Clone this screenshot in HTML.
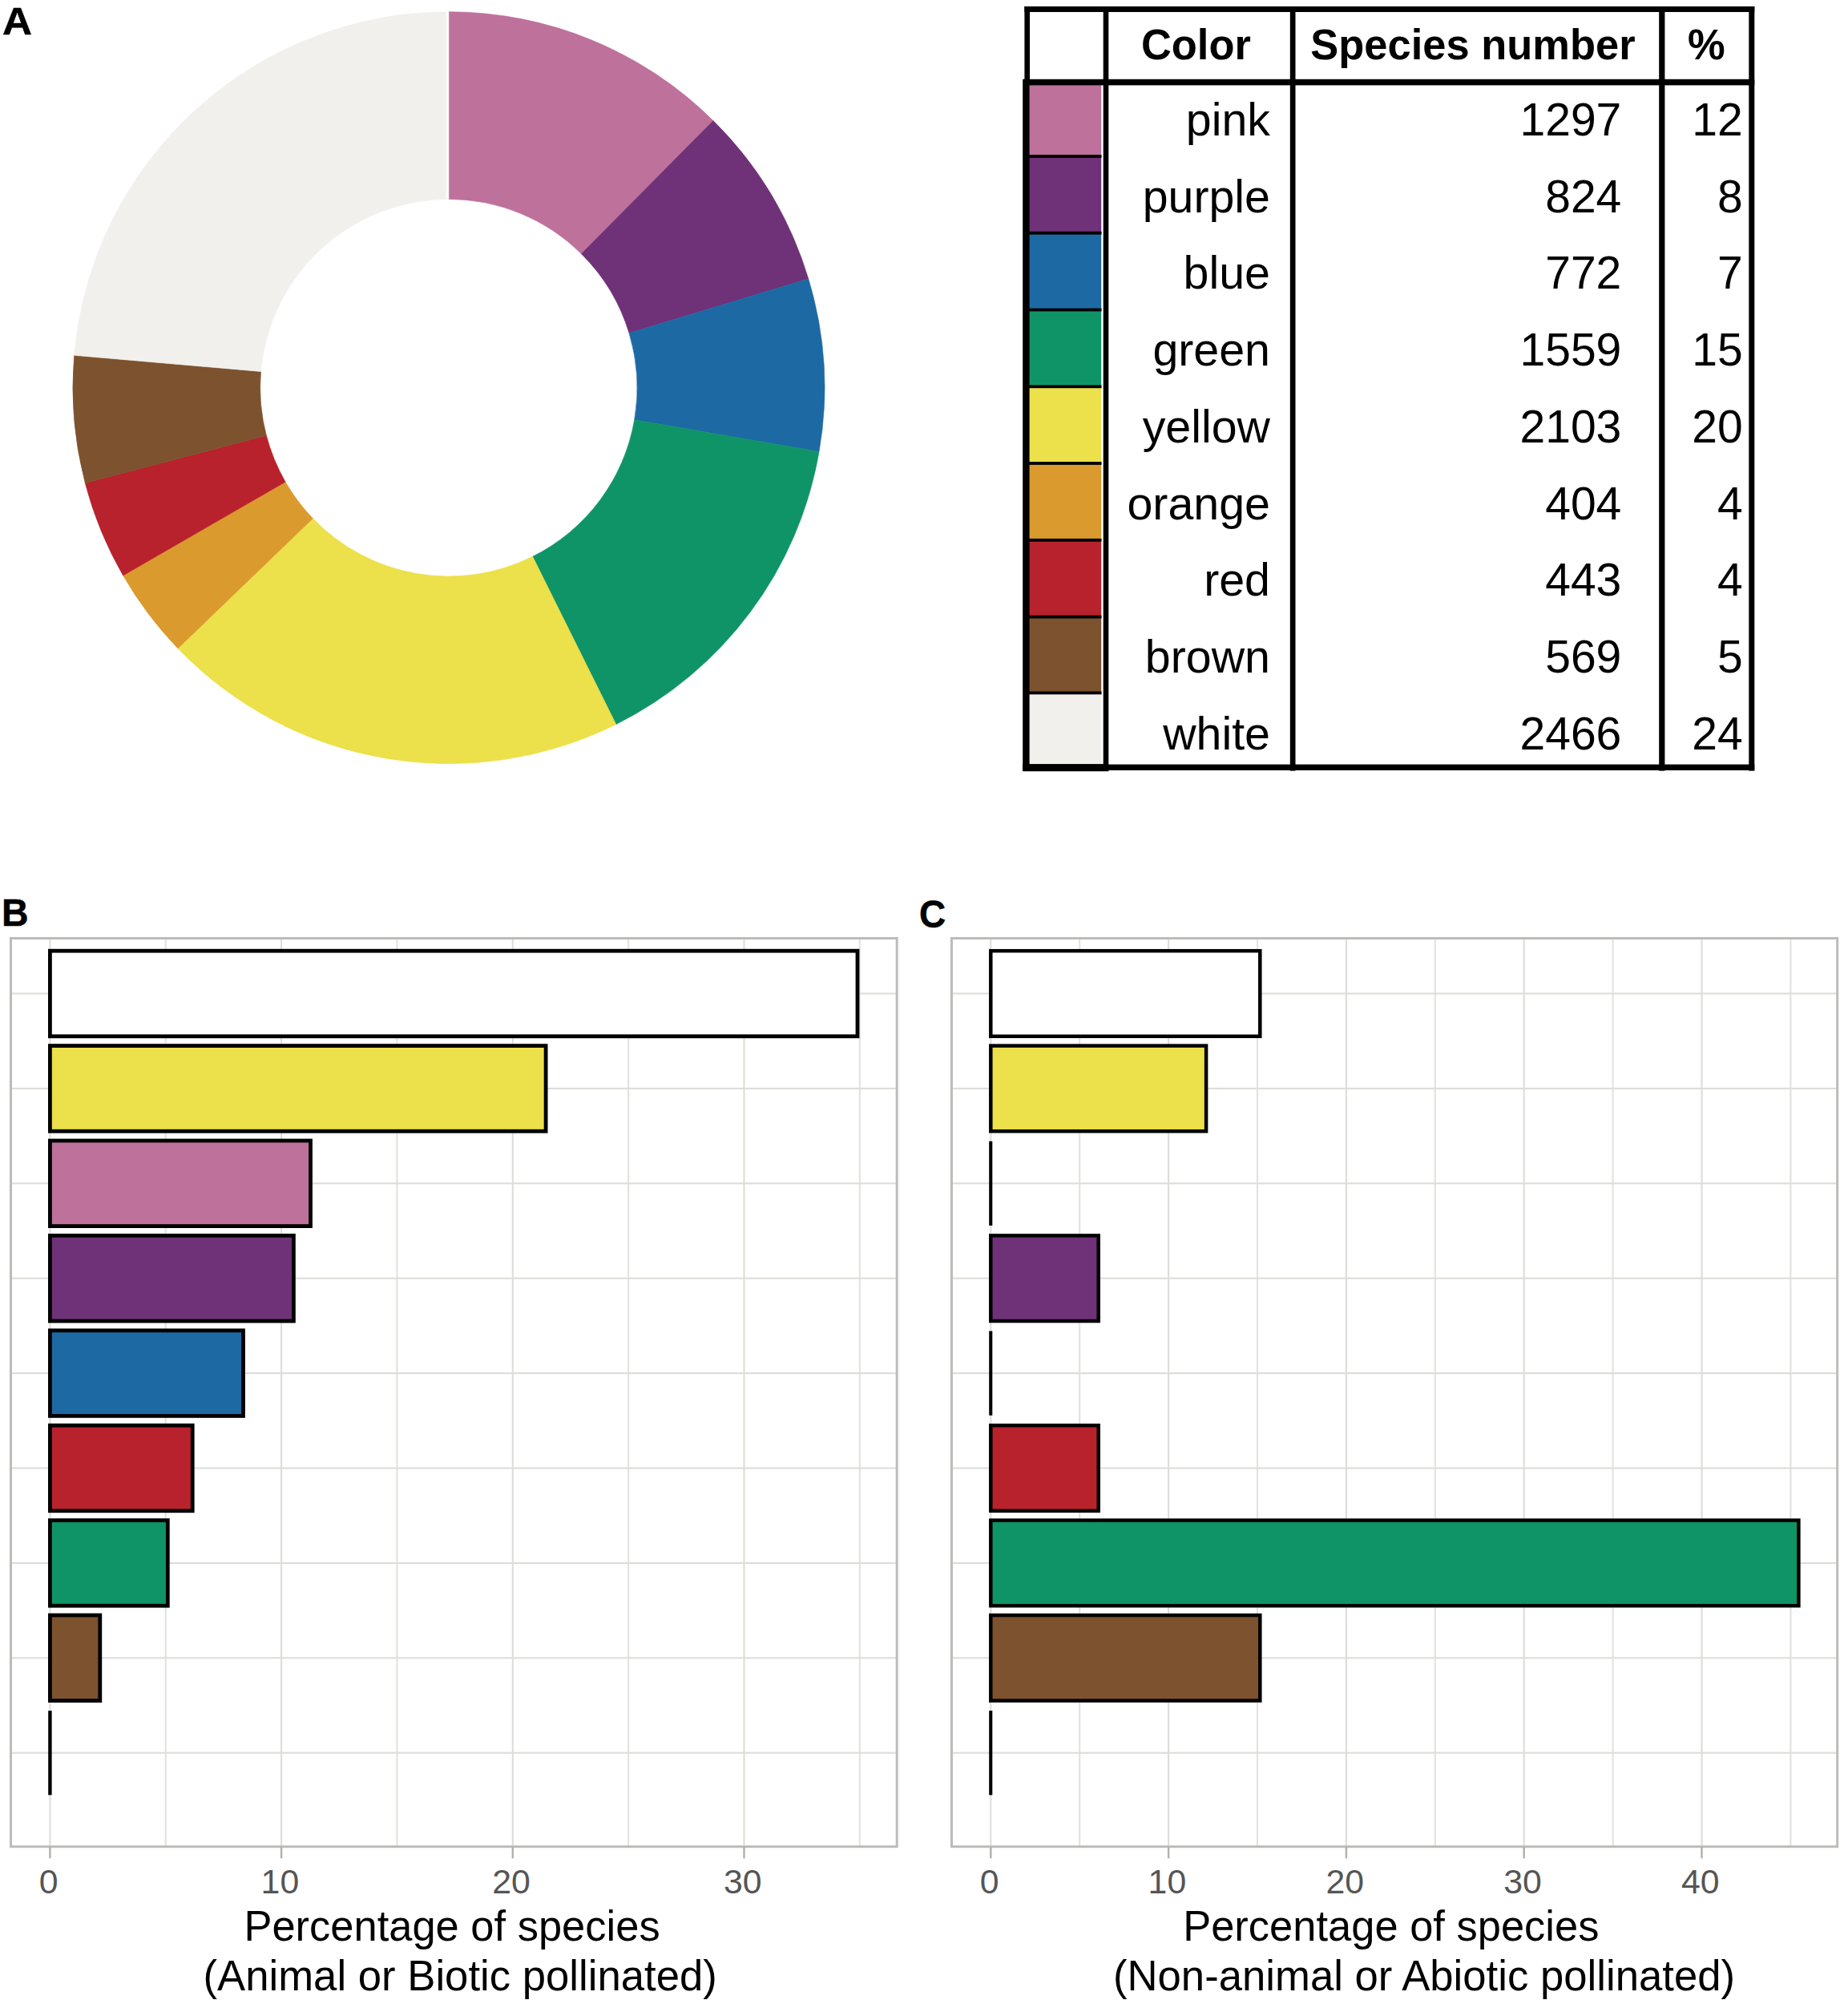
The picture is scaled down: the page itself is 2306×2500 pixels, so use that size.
<!DOCTYPE html>
<html lang="en"><head><meta charset="utf-8"><title>Flower colour figure</title>
<style>html,body{margin:0;padding:0;background:#fff}svg{display:block}text{font-family:"Liberation Sans",sans-serif}</style></head><body>
<svg width="2306" height="2500" viewBox="0 0 2306 2500">
<rect width="2306" height="2500" fill="#fff"/>
<g id="donut">
<path d="M559.90 14.70A469.0 469.0 0 0 1 890.01 150.55L725.45 316.63A235.2 235.2 0 0 0 559.90 248.50Z" fill="#BD719B" stroke="#BD719B" stroke-width="0.6"/>
<path d="M890.01 150.55A469.0 469.0 0 0 1 1008.79 347.82L785.01 415.56A235.2 235.2 0 0 0 725.45 316.63Z" fill="#6F3178" stroke="#6F3178" stroke-width="0.6"/>
<path d="M1008.79 347.82A469.0 469.0 0 0 1 1022.07 563.43L791.68 523.68A235.2 235.2 0 0 0 785.01 415.56Z" fill="#1D69A3" stroke="#1D69A3" stroke-width="0.6"/>
<path d="M1022.07 563.43A469.0 469.0 0 0 1 768.72 903.65L664.62 694.30A235.2 235.2 0 0 0 791.68 523.68Z" fill="#0F9468" stroke="#0F9468" stroke-width="0.6"/>
<path d="M768.72 903.65A469.0 469.0 0 0 1 221.96 808.91L390.43 646.79A235.2 235.2 0 0 0 664.62 694.30Z" fill="#ECE04B" stroke="#ECE04B" stroke-width="0.6"/>
<path d="M221.96 808.91A469.0 469.0 0 0 1 153.59 717.96L356.14 601.18A235.2 235.2 0 0 0 390.43 646.79Z" fill="#DB9A2E" stroke="#DB9A2E" stroke-width="0.6"/>
<path d="M153.59 717.96A469.0 469.0 0 0 1 106.22 602.60L332.38 543.33A235.2 235.2 0 0 0 356.14 601.18Z" fill="#B8222C" stroke="#B8222C" stroke-width="0.6"/>
<path d="M106.22 602.60A469.0 469.0 0 0 1 92.64 443.30L325.57 463.44A235.2 235.2 0 0 0 332.38 543.33Z" fill="#7D522E" stroke="#7D522E" stroke-width="0.6"/>
<path d="M92.64 443.30A469.0 469.0 0 0 1 559.90 14.70L559.90 248.50A235.2 235.2 0 0 0 325.57 463.44Z" fill="#F1F0EC" stroke="#F1F0EC" stroke-width="0.6"/>
<rect x="556.7" y="12" width="3.0" height="238" fill="#fdfdfc"/>
</g>
<text transform="translate(2.9 43.1) scale(1.055 1)" font-size="48.6" font-weight="700" fill="#000" stroke="#000" stroke-width="0.5">A</text>
<text transform="translate(2.05 1155) scale(0.957 1)" font-size="48.6" font-weight="700" fill="#000" stroke="#000" stroke-width="0.5">B</text>
<text transform="translate(1147.0 1156.5) scale(0.945 1)" font-size="48.6" font-weight="700" fill="#000" stroke="#000" stroke-width="0.5">C</text>
<g id="table">
<rect x="1281" y="102.5" width="93.2" height="92.5" fill="#BD719B"/>
<rect x="1281" y="195.0" width="93.2" height="95.7" fill="#6F3178"/>
<rect x="1281" y="290.7" width="93.2" height="95.8" fill="#1D69A3"/>
<rect x="1281" y="386.5" width="93.2" height="95.8" fill="#0F9468"/>
<rect x="1281" y="482.3" width="93.2" height="95.7" fill="#ECE04B"/>
<rect x="1281" y="578.0" width="93.2" height="95.8" fill="#DB9A2E"/>
<rect x="1281" y="673.8" width="93.2" height="95.8" fill="#B8222C"/>
<rect x="1281" y="769.6" width="93.2" height="94.8" fill="#7D522E"/>
<rect x="1281" y="864.4" width="93.2" height="93.3" fill="#F1F0EC"/>
<rect x="1277" y="193.1" width="97.5" height="3.8" fill="#000"/>
<rect x="1277" y="288.8" width="97.5" height="3.8" fill="#000"/>
<rect x="1277" y="384.6" width="97.5" height="3.8" fill="#000"/>
<rect x="1277" y="480.4" width="97.5" height="3.8" fill="#000"/>
<rect x="1277" y="576.1" width="97.5" height="3.8" fill="#000"/>
<rect x="1277" y="671.9" width="97.5" height="3.8" fill="#000"/>
<rect x="1277" y="767.7" width="97.5" height="3.8" fill="#000"/>
<rect x="1277" y="862.5" width="97.5" height="3.8" fill="#000"/>
<rect x="1278.4" y="8.0" width="910.9" height="7.0" fill="#000"/>
<rect x="1278.4" y="98.8" width="910.9" height="7.6" fill="#000"/>
<rect x="1383.0" y="953.6" width="806.3" height="7.4" fill="#000"/>
<rect x="1276.2" y="953.1" width="107.1" height="9.1" fill="#000"/>
<rect x="1278.4" y="8.0" width="6.6" height="92.0" fill="#000"/>
<rect x="1276.2" y="98.8" width="8.4" height="862.8" fill="#000"/>
<rect x="1376.7" y="8.0" width="6.6" height="953.6" fill="#000"/>
<rect x="1609.8" y="8.0" width="6.7" height="953.6" fill="#000"/>
<rect x="2070.2" y="8.0" width="7.2" height="953.6" fill="#000"/>
<rect x="2182.3" y="8.0" width="7.0" height="953.6" fill="#000"/>
<text transform="translate(1492.4 74) scale(0.972 1)" font-size="54" font-weight="700" text-anchor="middle">Color</text>
<text transform="translate(1837.9 74) scale(0.972 1)" font-size="54" font-weight="700" text-anchor="middle">Species number</text>
<text transform="translate(2129.3 74) scale(0.972 1)" font-size="54" font-weight="700" text-anchor="middle">%</text>
<text transform="translate(1585 169.0) scale(1.006 1)" font-size="57" text-anchor="end">pink</text>
<text x="2023.3" y="169.0" font-size="57" text-anchor="end">1297</text>
<text x="2174.6" y="169.0" font-size="57" text-anchor="end">12</text>
<text transform="translate(1585 264.7) scale(1.006 1)" font-size="57" text-anchor="end">purple</text>
<text x="2023.3" y="264.7" font-size="57" text-anchor="end">824</text>
<text x="2174.6" y="264.7" font-size="57" text-anchor="end">8</text>
<text transform="translate(1585 360.4) scale(1.006 1)" font-size="57" text-anchor="end">blue</text>
<text x="2023.3" y="360.4" font-size="57" text-anchor="end">772</text>
<text x="2174.6" y="360.4" font-size="57" text-anchor="end">7</text>
<text transform="translate(1585 456.2) scale(1.006 1)" font-size="57" text-anchor="end">green</text>
<text x="2023.3" y="456.2" font-size="57" text-anchor="end">1559</text>
<text x="2174.6" y="456.2" font-size="57" text-anchor="end">15</text>
<text transform="translate(1585 551.9) scale(1.006 1)" font-size="57" text-anchor="end">yellow</text>
<text x="2023.3" y="551.9" font-size="57" text-anchor="end">2103</text>
<text x="2174.6" y="551.9" font-size="57" text-anchor="end">20</text>
<text transform="translate(1585 647.6) scale(1.006 1)" font-size="57" text-anchor="end">orange</text>
<text x="2023.3" y="647.6" font-size="57" text-anchor="end">404</text>
<text x="2174.6" y="647.6" font-size="57" text-anchor="end">4</text>
<text transform="translate(1585 743.3) scale(1.006 1)" font-size="57" text-anchor="end">red</text>
<text x="2023.3" y="743.3" font-size="57" text-anchor="end">443</text>
<text x="2174.6" y="743.3" font-size="57" text-anchor="end">4</text>
<text transform="translate(1585 839.0) scale(1.006 1)" font-size="57" text-anchor="end">brown</text>
<text x="2023.3" y="839.0" font-size="57" text-anchor="end">569</text>
<text x="2174.6" y="839.0" font-size="57" text-anchor="end">5</text>
<text transform="translate(1585 934.8) scale(1.006 1)" font-size="57" text-anchor="end">white</text>
<text x="2023.3" y="934.8" font-size="57" text-anchor="end">2466</text>
<text x="2174.6" y="934.8" font-size="57" text-anchor="end">24</text>
</g>
<g id="chartB">
<rect x="13.5" y="1170.5" width="1105.7" height="1133.2" fill="#fff"/>
<rect x="61.35" y="1170.5" width="2.1" height="1133.2" fill="#DDDDD9"/>
<rect x="205.70" y="1170.5" width="2.1" height="1133.2" fill="#E2E2DE"/>
<rect x="350.05" y="1170.5" width="2.1" height="1133.2" fill="#DDDDD9"/>
<rect x="494.40" y="1170.5" width="2.1" height="1133.2" fill="#E2E2DE"/>
<rect x="638.75" y="1170.5" width="2.1" height="1133.2" fill="#DDDDD9"/>
<rect x="783.10" y="1170.5" width="2.1" height="1133.2" fill="#E2E2DE"/>
<rect x="927.45" y="1170.5" width="2.1" height="1133.2" fill="#DDDDD9"/>
<rect x="1071.80" y="1170.5" width="2.1" height="1133.2" fill="#E2E2DE"/>
<rect x="13.5" y="1238.45" width="1105.7" height="2.1" fill="#DDDDD9"/>
<rect x="13.5" y="1356.85" width="1105.7" height="2.1" fill="#DDDDD9"/>
<rect x="13.5" y="1475.25" width="1105.7" height="2.1" fill="#DDDDD9"/>
<rect x="13.5" y="1593.65" width="1105.7" height="2.1" fill="#DDDDD9"/>
<rect x="13.5" y="1712.05" width="1105.7" height="2.1" fill="#DDDDD9"/>
<rect x="13.5" y="1830.45" width="1105.7" height="2.1" fill="#DDDDD9"/>
<rect x="13.5" y="1948.85" width="1105.7" height="2.1" fill="#DDDDD9"/>
<rect x="13.5" y="2067.25" width="1105.7" height="2.1" fill="#DDDDD9"/>
<rect x="13.5" y="2185.65" width="1105.7" height="2.1" fill="#DDDDD9"/>
<rect x="62.4" y="1186.2" width="1007.6" height="106.6" fill="#fff" stroke="#000" stroke-width="4.8"/>
<rect x="62.4" y="1304.6" width="618.7" height="106.6" fill="#ECE04B" stroke="#000" stroke-width="4.8"/>
<rect x="62.4" y="1423.0" width="325.1" height="106.6" fill="#BD719B" stroke="#000" stroke-width="4.8"/>
<rect x="62.4" y="1541.4" width="304.0" height="106.6" fill="#6F3178" stroke="#000" stroke-width="4.8"/>
<rect x="62.4" y="1659.8" width="241.1" height="106.6" fill="#1D69A3" stroke="#000" stroke-width="4.8"/>
<rect x="62.4" y="1778.2" width="177.8" height="106.6" fill="#B8222C" stroke="#000" stroke-width="4.8"/>
<rect x="62.4" y="1896.6" width="146.9" height="106.6" fill="#0F9468" stroke="#000" stroke-width="4.8"/>
<rect x="62.4" y="2015.0" width="62.4" height="106.6" fill="#7D522E" stroke="#000" stroke-width="4.8"/>
<rect x="60.2" y="2134.1" width="4.4" height="105.2" fill="#000"/>
<rect x="13.5" y="1170.5" width="1105.7" height="1133.2" fill="none" stroke="#BCBCB9" stroke-width="3"/>
<rect x="61.2" y="2303.7" width="2.4" height="14.6" fill="#B0B0B0"/>
<text transform="translate(60.7 2362) scale(1.0 1)" font-size="42.8" text-anchor="middle" fill="#555555">0</text>
<rect x="349.9" y="2303.7" width="2.4" height="14.6" fill="#B0B0B0"/>
<text transform="translate(349.4 2362) scale(1.0 1)" font-size="42.8" text-anchor="middle" fill="#555555">10</text>
<rect x="638.6" y="2303.7" width="2.4" height="14.6" fill="#B0B0B0"/>
<text transform="translate(638.1 2362) scale(1.0 1)" font-size="42.8" text-anchor="middle" fill="#555555">20</text>
<rect x="927.3" y="2303.7" width="2.4" height="14.6" fill="#B0B0B0"/>
<text transform="translate(926.8 2362) scale(1.0 1)" font-size="42.8" text-anchor="middle" fill="#555555">30</text>
<text transform="translate(564.0 2421.4) scale(0.972 1)" font-size="54" text-anchor="middle" fill="#000">Percentage of species</text>
<text transform="translate(574.2 2482.6) scale(0.976 1)" font-size="54" text-anchor="middle" fill="#000">(Animal or Biotic pollinated)</text>
</g>
<g id="chartC">
<rect x="1187.5" y="1170.5" width="1105.2" height="1133.2" fill="#fff"/>
<rect x="1235.25" y="1170.5" width="2.1" height="1133.2" fill="#DDDDD9"/>
<rect x="1346.15" y="1170.5" width="2.1" height="1133.2" fill="#E2E2DE"/>
<rect x="1457.05" y="1170.5" width="2.1" height="1133.2" fill="#DDDDD9"/>
<rect x="1567.95" y="1170.5" width="2.1" height="1133.2" fill="#E2E2DE"/>
<rect x="1678.85" y="1170.5" width="2.1" height="1133.2" fill="#DDDDD9"/>
<rect x="1789.75" y="1170.5" width="2.1" height="1133.2" fill="#E2E2DE"/>
<rect x="1900.65" y="1170.5" width="2.1" height="1133.2" fill="#DDDDD9"/>
<rect x="2011.55" y="1170.5" width="2.1" height="1133.2" fill="#E2E2DE"/>
<rect x="2122.45" y="1170.5" width="2.1" height="1133.2" fill="#DDDDD9"/>
<rect x="2233.35" y="1170.5" width="2.1" height="1133.2" fill="#E2E2DE"/>
<rect x="1187.5" y="1238.45" width="1105.2" height="2.1" fill="#DDDDD9"/>
<rect x="1187.5" y="1356.85" width="1105.2" height="2.1" fill="#DDDDD9"/>
<rect x="1187.5" y="1475.25" width="1105.2" height="2.1" fill="#DDDDD9"/>
<rect x="1187.5" y="1593.65" width="1105.2" height="2.1" fill="#DDDDD9"/>
<rect x="1187.5" y="1712.05" width="1105.2" height="2.1" fill="#DDDDD9"/>
<rect x="1187.5" y="1830.45" width="1105.2" height="2.1" fill="#DDDDD9"/>
<rect x="1187.5" y="1948.85" width="1105.2" height="2.1" fill="#DDDDD9"/>
<rect x="1187.5" y="2067.25" width="1105.2" height="2.1" fill="#DDDDD9"/>
<rect x="1187.5" y="2185.65" width="1105.2" height="2.1" fill="#DDDDD9"/>
<rect x="1236.3" y="1186.2" width="336.0" height="106.6" fill="#fff" stroke="#000" stroke-width="4.5"/>
<rect x="1236.3" y="1304.6" width="268.8" height="106.6" fill="#ECE04B" stroke="#000" stroke-width="4.5"/>
<rect x="1234.2" y="1423.7" width="4.1" height="105.2" fill="#000"/>
<rect x="1236.3" y="1541.4" width="134.4" height="106.6" fill="#6F3178" stroke="#000" stroke-width="4.5"/>
<rect x="1234.2" y="1660.5" width="4.1" height="105.2" fill="#000"/>
<rect x="1236.3" y="1778.2" width="134.4" height="106.6" fill="#B8222C" stroke="#000" stroke-width="4.5"/>
<rect x="1236.3" y="1896.6" width="1008.1" height="106.6" fill="#0F9468" stroke="#000" stroke-width="4.5"/>
<rect x="1236.3" y="2015.0" width="336.0" height="106.6" fill="#7D522E" stroke="#000" stroke-width="4.5"/>
<rect x="1234.2" y="2134.1" width="4.1" height="105.2" fill="#000"/>
<rect x="1187.5" y="1170.5" width="1105.2" height="1133.2" fill="none" stroke="#BCBCB9" stroke-width="3"/>
<rect x="1235.1" y="2303.7" width="2.4" height="14.6" fill="#B0B0B0"/>
<text transform="translate(1234.6 2362) scale(1.0 1)" font-size="42.8" text-anchor="middle" fill="#555555">0</text>
<rect x="1456.9" y="2303.7" width="2.4" height="14.6" fill="#B0B0B0"/>
<text transform="translate(1456.4 2362) scale(1.0 1)" font-size="42.8" text-anchor="middle" fill="#555555">10</text>
<rect x="1678.7" y="2303.7" width="2.4" height="14.6" fill="#B0B0B0"/>
<text transform="translate(1678.2 2362) scale(1.0 1)" font-size="42.8" text-anchor="middle" fill="#555555">20</text>
<rect x="1900.5" y="2303.7" width="2.4" height="14.6" fill="#B0B0B0"/>
<text transform="translate(1900.0 2362) scale(1.0 1)" font-size="42.8" text-anchor="middle" fill="#555555">30</text>
<rect x="2122.3" y="2303.7" width="2.4" height="14.6" fill="#B0B0B0"/>
<text transform="translate(2121.8 2362) scale(1.0 1)" font-size="42.8" text-anchor="middle" fill="#555555">40</text>
<text transform="translate(1735.8 2421.4) scale(0.972 1)" font-size="54" text-anchor="middle" fill="#000">Percentage of species</text>
<text transform="translate(1777.0 2482.6) scale(0.976 1)" font-size="54" text-anchor="middle" fill="#000">(Non-animal or Abiotic pollinated)</text>
</g>
</svg></body></html>
